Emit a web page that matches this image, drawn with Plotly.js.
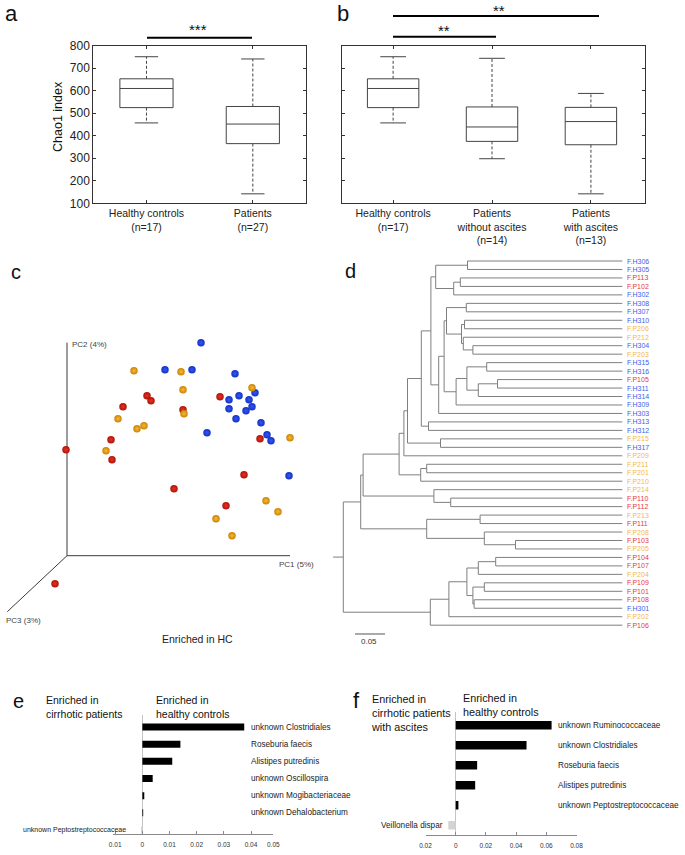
<!DOCTYPE html>
<html><head><meta charset="utf-8">
<script src="https://cdn.plot.ly/plotly-3.0.1.min.js"></script>
<style>html,body{margin:0;padding:0;background:#fff}#chart{width:685px;height:855px}</style>
</head><body><div id="chart"></div>
<script>
// ---------------- DATA ----------------
// Panel a: Chao1 index box summaries
const aGroups = ['Healthy controls<br>(n=17)', 'Patients<br>(n=27)'];
const aLower  = [457, 142];
const aQ1     = [525, 365];
const aMedian = [610, 452];
const aQ3     = [653, 530];
const aUpper  = [751, 741];
// Panel b
const bGroups = ['Healthy controls<br>(n=17)', 'Patients<br>without ascites<br>(n=14)', 'Patients<br>with ascites<br>(n=13)'];
const bLower  = [457, 298, 142];
const bQ1     = [525, 375, 360];
const bMedian = [610, 439, 463];
const bQ3     = [653, 528, 526];
const bUpper  = [751, 744, 588];
const chaoTicks = [100, 200, 300, 400, 500, 600, 700, 800];

// Panel c: PCoA (projected coordinates of the 3D view)
const pcHX = [1.34, 0.98, 1.25, 1.68, 1.62, 1.72, 1.82, 1.88, 1.62, 1.79, 1.85, 1.69, 1.94, 1.40, 2.00, 2.04, 2.22];
const pcHY = [2.13, 1.86, 1.86, 1.82, 1.56, 1.60, 1.56, 1.63, 1.47, 1.45, 1.49, 1.37, 1.33, 1.23, 1.21, 1.15, 0.80];
const pcP1X = [0.80, 0.84, 0.56, 1.16, 1.53, 0.44, 1.93, -0.01, 0.45, 1.77, 1.07, 1.59, -0.12];
const pcP1Y = [1.60, 1.55, 1.49, 1.46, 1.59, 1.16, 1.17, 1.06, 0.96, 0.81, 0.67, 0.50, -0.28];
const pcP2X = [0.67, 1.14, 1.16, 1.85, 1.17, 0.51, 0.70, 0.77, 2.23, 0.39, 1.99, 2.11, 1.49, 1.65];
const pcP2Y = [1.85, 1.84, 1.66, 1.68, 1.42, 1.37, 1.27, 1.30, 1.18, 1.05, 0.55, 0.44, 0.37, 0.20];
const pcAxisLabels = ['PC1 (5%)', 'PC2 (4%)', 'PC3 (3%)'];

// Panel d: dendrogram
const leafLabels = ['F.H306','F.H305','F.P113','F.P102','F.H302','F.H308','F.H307','F.H310','F.P206','F.P212',
  'F.H304','F.P203','F.H315','F.H316','F.P105','F.H311','F.H314','F.H309','F.H303','F.H313','F.H312','F.P215',
  'F.H317','F.P209','F.P211','F.P201','F.P210','F.P214','F.P110','F.P112','F.P213','F.P111','F.P208','F.P103',
  'F.P205','F.P104','F.P107','F.P204','F.P109','F.P101','F.P108','F.H301','F.P202','F.P106'];
const leafDepth = 0.465;
const treeJoins = [ // [childA, childB, node depth]; '#k' = k-th join
  ['F.H306','F.H305',0.207], ['F.P113','F.P102',0.195], ['#2','F.H302',0.184], ['#1','#3',0.154],
  ['F.H308','F.H307',0.205], ['F.H310','F.P206',0.202], ['F.H304','F.P203',0.216], ['F.P212','#7',0.200],
  ['#6','#8',0.197], ['#5','#9',0.172], ['F.H315','F.H316',0.239], ['F.P105','F.H311',0.257],
  ['#12','F.H314',0.225], ['#11','#13',0.206], ['#14','F.H309',0.188], ['#10','#15',0.168],
  ['#16','F.H303',0.159], ['#4','#17',0.146], ['F.H313','F.H312',0.142], ['#18','#19',0.130],
  ['F.P215','F.H317',0.162], ['#20','#21',0.107], ['#22','F.P209',0.101], ['F.P211','F.P201',0.139],
  ['#24','F.P210',0.129], ['#23','#25',0.093], ['F.P110','F.P112',0.179], ['F.P214','#27',0.151],
  ['#26','#28',0.033], ['F.P213','F.P111',0.228], ['F.P103','F.P205',0.287], ['F.P208','#31',0.235],
  ['#30','#32',0.139], ['#29','#33',0.029], ['F.P104','F.P107',0.254], ['#35','F.P204',0.225],
  ['F.P109','F.P101',0.235], ['F.P108','F.H301',0.218], ['#37','#38',0.216], ['#36','#39',0.206],
  ['#40','F.P202',0.176], ['#41','F.P106',0.145], ['#34','#42',0.000]
];
const rootStub = -0.017;
const scaleBarLength = 0.05;

// Panel e: effect sizes
const eTaxa = ['unknown Clostridiales','Roseburia faecis','Alistipes putredinis','unknown Oscillospira',
  'unknown Mogibacteriaceae','unknown Dehalobacterium','unknown Peptostreptococcaceae'];
const eValues = [0.0375, 0.0140, 0.0110, 0.0038, 0.0007, 0.0003, -0.0005];
const eTickVals = [-0.01, 0, 0.01, 0.02, 0.03, 0.04, 0.0482];
const eTickText = ['0.01','0','0.01','0.02','0.03','0.04','0.05'];
// Panel f
const fTaxa = ['unknown Ruminococcaceae','unknown Clostridiales','Roseburia faecis','Alistipes putredinis',
  'unknown Peptostreptococcaceae','Veillonella dispar'];
const fValues = [0.0635, 0.0469, 0.0142, 0.0129, 0.0018, -0.0049];
const fTickVals = [-0.02, 0, 0.02, 0.04, 0.06, 0.08];
const fTickText = ['0.02','0','0.02','0.04','0.06','0.08'];

// ---------------- DRAWING ----------------
const W = 685, H = 855;
const fx = v => v / W;
const fy = v => 1 - v / H;
const FONT = 'Liberation Sans, Arial, sans-serif';
const traces = [];
const annotations = [];
const shapes = [];

function boxPlot(xa, ya, lower, q1, med, q3, upper, hw, cw) {
  const bx=[], by=[], mx=[], my=[], wx=[], wy=[], cx=[], cy=[];
  for (let i = 0; i < q1.length; i++) {
    bx.push(i-hw, i+hw, i+hw, i-hw, i-hw, null); by.push(q1[i], q1[i], q3[i], q3[i], q1[i], null);
    mx.push(i-hw, i+hw, null); my.push(med[i], med[i], null);
    wx.push(i, i, null, i, i, null); wy.push(q3[i], upper[i], null, q1[i], lower[i], null);
    cx.push(i-cw, i+cw, null, i-cw, i+cw, null); cy.push(upper[i], upper[i], null, lower[i], lower[i], null);
  }
  const base = {type:'scatter', mode:'lines', xaxis:xa, yaxis:ya, hoverinfo:'skip', showlegend:false};
  traces.push({...base, x:wx, y:wy, line:{color:'#444', width:1, dash:'3px,2px'}});
  traces.push({...base, x:cx, y:cy, line:{color:'#444', width:1}});
  traces.push({...base, x:bx, y:by, line:{color:'#444', width:1}});
  traces.push({...base, x:mx, y:my, line:{color:'#444', width:1}});
}
boxPlot('x', 'y', aLower, aQ1, aMedian, aQ3, aUpper, 0.25, 0.11);
boxPlot('x2', 'y2', bLower, bQ1, bMedian, bQ3, bUpper, 0.26, 0.13);

// Panel c: projected axes + spheres
const axLen = {pc1: 2.23, pc2: 2.13, pc3x: -0.597, pc3y: -0.56};
traces.push({type:'scatter', mode:'lines', xaxis:'x3', yaxis:'y3', hoverinfo:'skip', showlegend:false,
  x:[0, axLen.pc1, null, 0, 0, null, 0, axLen.pc3x], y:[0, 0, null, 0, axLen.pc2, null, 0, axLen.pc3y],
  line:{color:'#3a3a3a', width:1}});
function spheres(x, y, edge, center) {
  traces.push({type:'scatter', mode:'markers', xaxis:'x3', yaxis:'y3', x, y, hoverinfo:'skip', showlegend:false,
    marker:{size:7.5, color:edge, line:{width:0}, gradient:{type:'radial', color:center}}});
}
spheres(pcHX, pcHY, '#1432c4', '#3356f5');
spheres(pcP1X, pcP1Y, '#b0120a', '#e63322');
spheres(pcP2X, pcP2Y, '#c98400', '#f8b83a');

// Panel d: dendrogram
const nodes = {};
leafLabels.forEach((l, i) => nodes[l] = {x: leafDepth, y: i});
const lx = [], ly = [];
treeJoins.forEach((j, k) => {
  const a = nodes[j[0]], b = nodes[j[1]], h = j[2];
  lx.push(h, h, null, h, a.x, null, h, b.x, null);
  ly.push(a.y, b.y, null, a.y, a.y, null, b.y, b.y, null);
  nodes['#' + (k + 1)] = {x: h, y: (a.y + b.y) / 2};
});
const root = nodes['#' + treeJoins.length];
lx.push(rootStub, root.x); ly.push(root.y, root.y);
traces.push({type:'scatter', mode:'lines', xaxis:'x4', yaxis:'y4', x:lx, y:ly, hoverinfo:'skip', showlegend:false,
  line:{color:'#7f7f7f', width:1}});
const sbY = leafLabels.length + 0.04;
traces.push({type:'scatter', mode:'lines', xaxis:'x4', yaxis:'y4', x:[0.0195, 0.0195 + scaleBarLength], y:[sbY, sbY],
  hoverinfo:'skip', showlegend:false, line:{color:'#555', width:1}});
function leafColor(l) { return l.startsWith('F.H') ? '#3e5ee8' : (l.startsWith('F.P1') ? '#e8383a' : '#f5b940'); }
leafLabels.forEach((l, i) => annotations.push({xref:'x4', yref:'y4', x:leafDepth, y:i, xanchor:'left', yanchor:'middle',
  xshift:3, text:l, showarrow:false, font:{family:FONT, size:7, color:leafColor(l)}}));

// Panels e, f: bars
function barColors(v) { return v.map(d => d >= 0 ? '#000000' : '#d3d3d3'); }
traces.push({type:'bar', orientation:'h', xaxis:'x5', yaxis:'y5', x:eValues, y:eTaxa, width:0.41,
  marker:{color:barColors(eValues), line:{width:0}}, hoverinfo:'skip', showlegend:false});
traces.push({type:'bar', orientation:'h', xaxis:'x6', yaxis:'y6', x:fValues, y:fTaxa, width:0.42,
  marker:{color:barColors(fValues), line:{width:0}}, hoverinfo:'skip', showlegend:false});
function taxaLabels(taxa, vals, ya, posX, negX, posSize, negSize) {
  taxa.forEach((t, i) => {
    const pos = vals[i] >= 0;
    annotations.push({xref:'paper', yref:ya, x: fx(pos ? posX : negX), y: t, xanchor: pos ? 'left' : 'right',
      yanchor:'middle', text:t, showarrow:false, font:{family:FONT, size: pos ? posSize : negSize, color:'#222'}});
  });
}
taxaLabels(eTaxa, eValues, 'y5', 249, 128, 8.2, 7);
taxaLabels(fTaxa, fValues, 'y6', 556, 445, 8.2, 8.2);

// ---------------- TEXT ----------------
function txt(text, x, y, size, opts) {
  annotations.push(Object.assign({xref:'paper', yref:'paper', x: fx(x), y: fy(y), text, showarrow:false,
    xanchor:'center', yanchor:'middle', font:{family:FONT, size, color:'#111'}}, opts || {}));
}
txt('a', 11, 13.5, 22);
txt('b', 343, 13, 22);
txt('c', 15.5, 272, 20);
txt('d', 350, 271, 20);
txt('e', 18.5, 701, 20);
txt('f', 356.5, 700, 22);
txt('Chao1 index', 58, 117, 12.5, {textangle:-90});
txt('***', 198, 29.5, 15);
txt('**', 499, 10, 15);
txt('**', 444, 31, 15);
txt(pcAxisLabels[1], 70, 345, 8, {xanchor:'left', font:{family:FONT, size:8, color:'#444'}});
txt(pcAxisLabels[0], 296.5, 564, 8, {font:{family:FONT, size:8, color:'#444'}});
txt(pcAxisLabels[2], 23.5, 620, 8, {font:{family:FONT, size:8, color:'#444'}});
txt('Enriched in HC', 197.5, 639, 10.5, {font:{family:FONT, size:10.5, color:'#222'}});
txt('0.05', 368.5, 641, 8, {font:{family:FONT, size:8, color:'#333'}});
txt('Enriched in<br>cirrhotic patients', 44, 707, 10.5, {xanchor:'left', align:'left'});
txt('Enriched in<br>healthy controls', 154, 707, 10.5, {xanchor:'left', align:'left'});
txt('Enriched in<br>cirrhotic patients<br>with ascites', 369, 713, 10.8, {xanchor:'left', align:'left'});
txt('Enriched in<br>healthy controls', 461, 704.5, 10.8, {xanchor:'left', align:'left'});

// significance bars
function sig(x0, x1, y) { shapes.push({type:'line', xref:'paper', yref:'paper', x0:fx(x0), x1:fx(x1), y0:fy(y), y1:fy(y), line:{color:'#000', width:2}}); }
sig(147, 252, 37.7);
sig(393, 599, 16);
sig(393, 496, 36.7);

// ---------------- LAYOUT ----------------
const boxX = {showline:true, mirror:'ticks', linecolor:'#333', linewidth:1, ticks:'inside', ticklen:3, tickcolor:'#333',
  showgrid:false, zeroline:false, tickfont:{family:FONT, size:10.5, color:'#222'}};
const boxY = {showline:true, mirror:'ticks', linecolor:'#333', linewidth:1, ticks:'inside', ticklen:3, tickcolor:'#333',
  showgrid:false, zeroline:false, range:[100, 800], tickvals:chaoTicks, tickfont:{family:FONT, size:12, color:'#222'}};
const hidden = {visible:false, showgrid:false, zeroline:false, fixedrange:true};
const barX = {showline:true, linecolor:'#8a8a8a', linewidth:1, ticks:'inside', ticklen:3, tickcolor:'#8a8a8a',
  showgrid:false, zeroline:true, zerolinecolor:'#c4c4c4', zerolinewidth:1.5, tickfont:{family:FONT, size:6.5, color:'#333'},
  ticklabelstandoff:4};

const layout = {
  width: W, height: H, autosize:false, margin:{l:0, r:0, t:0, b:0, pad:0},
  paper_bgcolor:'#fff', plot_bgcolor:'rgba(0,0,0,0)', showlegend:false,
  font:{family:FONT, color:'#222'},
  xaxis: Object.assign({}, boxX, {anchor:'y', domain:[fx(93.3), fx(306)], range:[-0.5, 1.5], tickvals:[0, 1], ticktext:aGroups}),
  yaxis: Object.assign({}, boxY, {anchor:'x', domain:[fy(203.3), fy(45.7)]}),
  xaxis2: Object.assign({}, boxX, {anchor:'y2', domain:[fx(341.7), fx(645.3)], range:[-0.52, 2.55], tickvals:[0, 1, 2], ticktext:bGroups}),
  yaxis2: Object.assign({}, boxY, {anchor:'x2', domain:[fy(203.3), fy(45.7)], showticklabels:false}),
  xaxis3: Object.assign({}, hidden, {anchor:'y3', domain:[fx(0), fx(320)], range:[-0.67, 2.53]}),
  yaxis3: Object.assign({}, hidden, {anchor:'x3', domain:[fy(640), fy(330)], range:[-0.843, 2.257]}),
  xaxis4: Object.assign({}, hidden, {anchor:'y4', domain:[fx(330), fx(625)], range:[-0.02217, 0.4695]}),
  yaxis4: Object.assign({}, hidden, {anchor:'x4', domain:[fy(640), fy(250)], range:[44.75, -1.30]}),
  xaxis5: Object.assign({}, barX, {anchor:'y5', domain:[fx(113.3), fx(273.3)], range:[-0.0107, 0.0482], tickvals:eTickVals, ticktext:eTickText}),
  yaxis5: Object.assign({}, hidden, {anchor:'x5', type:'category', domain:[fy(834.3), fy(715)], range:[6.25, -0.70]}),
  xaxis6: Object.assign({}, barX, {anchor:'y6', domain:[fx(425.5), fx(576.5)], range:[-0.02, 0.08], tickvals:fTickVals, ticktext:fTickText}),
  yaxis6: Object.assign({}, hidden, {anchor:'x6', type:'category', domain:[fy(835), fy(712)], range:[5.485, -0.665]}),
  annotations, shapes
};
Plotly.newPlot('chart', traces, layout, {staticPlot:true, displayModeBar:false});
</script></body></html>
